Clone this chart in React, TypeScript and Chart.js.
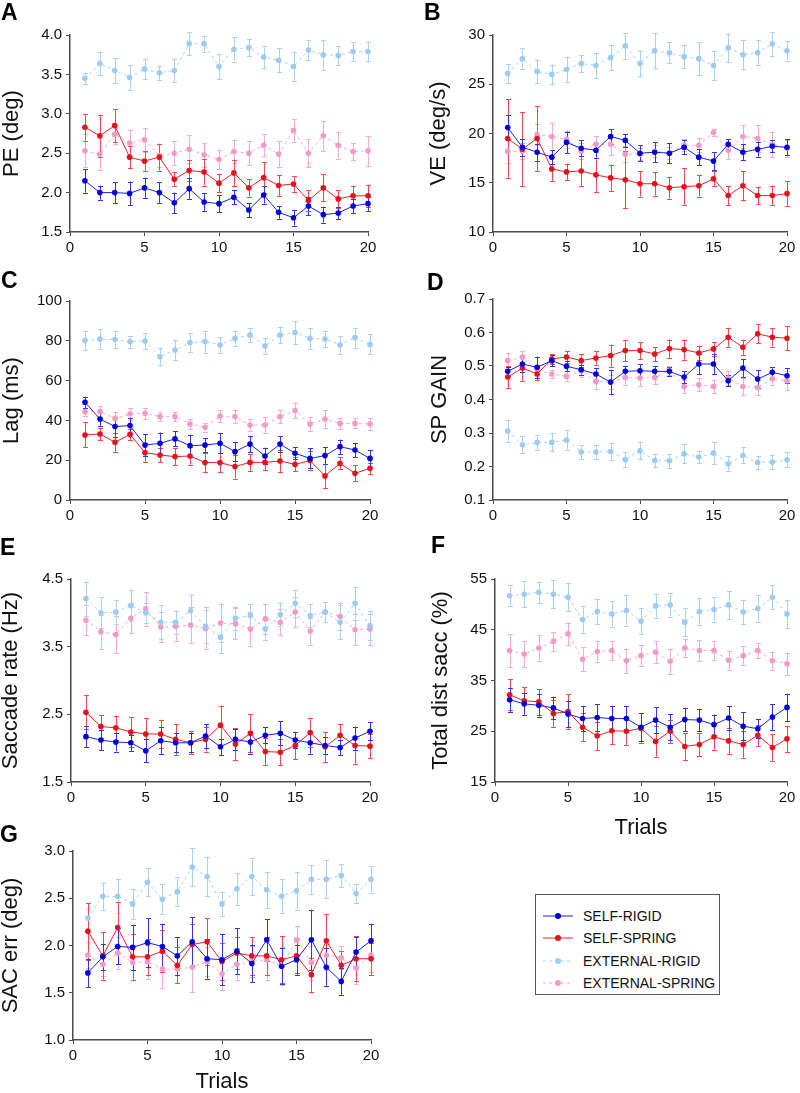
import React, { useEffect, useRef } from "react";
import { Chart, registerables } from "chart.js";
Chart.register(...registerables);

const FONT = '"Liberation Sans", Arial, sans-serif';
const AXIS = "#4a4a4a";

const TRIALS = [1, 2, 3, 4, 5, 6, 7, 8, 9, 10, 11, 12, 13, 14, 15, 16, 17, 18, 19, 20];
const X_TICKS = [0, 5, 10, 15, 20];
const LABELS = ["SELF-RIGID", "SELF-SPRING", "EXTERNAL-RIGID", "EXTERNAL-SPRING"];

// Panel A: PE (deg)
const A_SR = [2.15, 2.0, 2.0, 1.99, 2.06, 2.0, 1.87, 2.05, 1.88, 1.86, 1.94, 1.78, 1.97, 1.75, 1.68, 1.83, 1.72, 1.74, 1.83, 1.86];
const A_SR_e = [0.15, 0.09, 0.13, 0.15, 0.13, 0.13, 0.13, 0.13, 0.11, 0.11, 0.09, 0.09, 0.11, 0.08, 0.1, 0.12, 0.1, 0.08, 0.09, 0.09];
const A_SS = [2.83, 2.72, 2.85, 2.45, 2.4, 2.45, 2.17, 2.28, 2.26, 2.12, 2.25, 2.06, 2.19, 2.09, 2.11, 1.9, 2.06, 1.92, 1.96, 1.96];
const A_SS_e = [0.17, 0.27, 0.21, 0.14, 0.13, 0.17, 0.09, 0.13, 0.17, 0.11, 0.17, 0.11, 0.2, 0.13, 0.1, 0.13, 0.17, 0.11, 0.13, 0.14];
const A_ER = [3.45, 3.64, 3.55, 3.46, 3.57, 3.52, 3.55, 3.89, 3.89, 3.6, 3.82, 3.84, 3.72, 3.68, 3.6, 3.81, 3.75, 3.74, 3.79, 3.79];
const A_ER_e = [0.07, 0.15, 0.16, 0.16, 0.13, 0.09, 0.15, 0.15, 0.1, 0.16, 0.16, 0.11, 0.14, 0.15, 0.19, 0.13, 0.19, 0.12, 0.12, 0.12];
const A_ES = [2.53, 2.49, 2.74, 2.63, 2.67, 2.47, 2.5, 2.55, 2.48, 2.42, 2.52, 2.5, 2.6, 2.49, 2.79, 2.5, 2.72, 2.6, 2.52, 2.53];
const A_ES_e = [0.21, 0.2, 0.12, 0.17, 0.15, 0.15, 0.15, 0.18, 0.15, 0.12, 0.15, 0.15, 0.14, 0.16, 0.15, 0.18, 0.19, 0.17, 0.11, 0.19];
const A_TICKS = [1.5, 2.0, 2.5, 3.0, 3.5, 4.0];

// Panel B: VE (deg/s)
const B_SR = [20.6, 18.6, 18.1, 17.6, 19.1, 18.5, 18.3, 19.7, 19.3, 18.0, 18.1, 18.0, 18.6, 17.6, 17.2, 18.9, 18.1, 18.4, 18.7, 18.6];
const B_SR_e = [1.3, 0.85, 0.85, 0.7, 1.1, 0.8, 0.75, 0.75, 0.65, 0.8, 1.0, 1.0, 0.7, 0.8, 0.9, 0.55, 0.8, 0.75, 0.6, 0.8];
const B_SS = [19.5, 18.4, 19.5, 16.4, 16.1, 16.2, 15.8, 15.5, 15.3, 14.9, 14.9, 14.5, 14.6, 14.7, 15.4, 13.7, 14.7, 13.7, 13.7, 13.9];
const B_SS_e = [4.0, 3.75, 3.3, 1.2, 0.85, 1.5, 1.7, 1.35, 2.9, 1.3, 1.2, 1.1, 1.85, 1.1, 0.75, 1.0, 1.45, 0.9, 1.0, 1.25];
const B_ER = [26.1, 27.6, 26.3, 26.0, 26.5, 27.1, 26.9, 27.7, 28.9, 27.1, 28.4, 28.2, 27.8, 27.6, 26.9, 28.7, 28.0, 28.2, 29.1, 28.4];
const B_ER_e = [1.0, 1.1, 1.2, 1.0, 1.3, 0.85, 1.3, 1.3, 1.3, 1.3, 1.8, 1.05, 1.2, 1.7, 1.45, 1.45, 1.45, 1.25, 1.2, 1.0];
const B_ES = [18.2, 18.2, 19.9, 19.7, 19.4, 18.2, 18.9, 18.9, 17.9, 17.9, 18.2, 18.0, 18.8, 18.8, 20.1, 18.3, 19.7, 19.5, 18.9, 18.5];
const B_ES_e = [1.2, 0.8, 1.1, 1.35, 0.9, 0.8, 0.8, 1.1, 0.8, 0.6, 0.6, 0.6, 0.6, 0.7, 0.4, 0.85, 1.2, 1.35, 1.3, 0.85];
const B_TICKS = [10, 15, 20, 25, 30];

// Panel C: Lag (ms)
const C_SR = [49.1, 40.7, 36.9, 37.4, 27.6, 28.5, 30.7, 27.3, 27.6, 28.5, 24.3, 28.1, 22.1, 28.1, 23.5, 20.9, 22.3, 26.8, 25.1, 20.9];
const C_SR_e = [2.9, 3.4, 5.0, 3.8, 5.4, 5.4, 3.8, 5.5, 3.4, 5.0, 4.9, 4.1, 4.2, 3.9, 3.0, 5.0, 4.2, 3.6, 3.6, 4.2];
const C_SS = [32.7, 33.2, 29.0, 33.0, 23.8, 22.6, 21.8, 22.1, 18.8, 18.8, 16.8, 18.9, 18.9, 19.6, 17.9, 19.8, 12.1, 18.4, 13.4, 15.9];
const C_SS_e = [6.3, 3.1, 4.8, 2.8, 4.6, 3.6, 4.2, 4.4, 4.8, 4.8, 6.0, 4.2, 4.0, 5.4, 3.5, 4.6, 5.9, 3.0, 4.0, 2.8];
const C_ER = [80.1, 80.9, 80.6, 79.6, 79.9, 72.0, 75.4, 79.1, 79.6, 77.9, 81.2, 82.9, 77.4, 82.9, 84.1, 81.2, 80.9, 77.9, 81.6, 78.2];
const C_ER_e = [4.9, 4.9, 4.4, 3.0, 4.0, 4.2, 4.9, 4.8, 5.5, 3.9, 3.9, 3.4, 4.2, 4.2, 5.8, 5.4, 4.2, 4.6, 5.0, 5.0];
const C_ES = [44.4, 44.4, 41.0, 43.2, 43.6, 41.9, 41.9, 38.2, 36.5, 42.2, 41.9, 37.7, 37.7, 41.9, 44.9, 38.2, 40.7, 38.5, 38.5, 38.2];
const C_ES_e = [2.0, 2.9, 3.4, 2.8, 2.8, 2.2, 2.3, 2.6, 2.1, 3.1, 3.4, 3.0, 3.9, 3.4, 3.8, 3.4, 4.6, 2.7, 2.5, 2.9];
const C_TICKS = [0, 20, 40, 60, 80, 100];

// Panel D: SP GAIN
const D_SR = [0.484, 0.506, 0.496, 0.516, 0.499, 0.489, 0.476, 0.452, 0.484, 0.486, 0.484, 0.484, 0.467, 0.506, 0.506, 0.456, 0.494, 0.461, 0.481, 0.471];
const D_SR_e = [0.013, 0.024, 0.032, 0.016, 0.015, 0.015, 0.017, 0.035, 0.015, 0.019, 0.015, 0.013, 0.018, 0.031, 0.031, 0.016, 0.027, 0.026, 0.015, 0.023];
const D_SS = [0.467, 0.494, 0.476, 0.521, 0.527, 0.516, 0.524, 0.531, 0.546, 0.546, 0.536, 0.552, 0.549, 0.539, 0.551, 0.586, 0.556, 0.596, 0.586, 0.583];
const D_SS_e = [0.032, 0.04, 0.019, 0.014, 0.017, 0.02, 0.02, 0.033, 0.031, 0.025, 0.021, 0.027, 0.03, 0.022, 0.02, 0.028, 0.023, 0.028, 0.028, 0.036];
const D_ER = [0.306, 0.265, 0.272, 0.272, 0.279, 0.243, 0.243, 0.245, 0.22, 0.247, 0.218, 0.217, 0.238, 0.228, 0.24, 0.208, 0.233, 0.212, 0.213, 0.22];
const D_ER_e = [0.034, 0.025, 0.022, 0.027, 0.029, 0.02, 0.022, 0.025, 0.022, 0.026, 0.02, 0.021, 0.028, 0.018, 0.034, 0.022, 0.024, 0.019, 0.02, 0.022];
const D_ES = [0.516, 0.526, 0.489, 0.476, 0.469, 0.486, 0.454, 0.452, 0.466, 0.464, 0.466, 0.487, 0.439, 0.444, 0.439, 0.464, 0.439, 0.436, 0.462, 0.456];
const D_ES_e = [0.024, 0.018, 0.015, 0.013, 0.015, 0.018, 0.023, 0.021, 0.024, 0.025, 0.02, 0.013, 0.02, 0.02, 0.02, 0.02, 0.025, 0.022, 0.018, 0.029];
const D_TICKS = [0.1, 0.2, 0.3, 0.4, 0.5, 0.6, 0.7];

// Panel E: Saccade rate (Hz)
const E_SR = [2.17, 2.12, 2.09, 2.08, 1.96, 2.11, 2.08, 2.08, 2.18, 2.02, 2.13, 2.09, 2.19, 2.22, 2.12, 2.08, 2.04, 2.01, 2.15, 2.25];
const E_SR_e = [0.16, 0.15, 0.14, 0.12, 0.17, 0.2, 0.14, 0.14, 0.18, 0.12, 0.16, 0.17, 0.12, 0.18, 0.12, 0.16, 0.12, 0.11, 0.17, 0.13];
const E_SS = [2.53, 2.32, 2.3, 2.24, 2.21, 2.21, 2.13, 2.08, 2.13, 2.34, 2.06, 2.22, 1.95, 1.94, 2.04, 2.23, 2.02, 2.19, 2.04, 2.03];
const E_SS_e = [0.25, 0.17, 0.18, 0.22, 0.24, 0.21, 0.23, 0.17, 0.18, 0.29, 0.24, 0.28, 0.2, 0.19, 0.2, 0.22, 0.22, 0.17, 0.27, 0.18];
const E_ER = [4.21, 4.0, 4.01, 4.11, 4.0, 3.86, 3.86, 4.03, 3.8, 3.64, 3.92, 3.96, 3.76, 3.97, 4.14, 3.96, 4.01, 3.86, 4.14, 3.81];
const E_ER_e = [0.25, 0.23, 0.18, 0.23, 0.15, 0.25, 0.17, 0.23, 0.24, 0.24, 0.17, 0.17, 0.16, 0.17, 0.2, 0.17, 0.15, 0.25, 0.24, 0.21];
const E_ES = [3.89, 3.72, 3.68, 3.92, 4.06, 3.79, 3.8, 3.82, 3.77, 3.85, 3.84, 3.76, 3.91, 3.86, 4.01, 3.73, 4.01, 3.95, 3.75, 3.76];
const E_ES_e = [0.22, 0.25, 0.28, 0.22, 0.25, 0.22, 0.22, 0.26, 0.31, 0.28, 0.23, 0.25, 0.22, 0.19, 0.22, 0.2, 0.15, 0.2, 0.23, 0.23];
const E_TICKS = [1.5, 2.5, 3.5, 4.5];

// Panel F: Total dist sacc (%)
const F_SR = [31.2, 30.4, 30.1, 29.6, 28.4, 27.5, 27.7, 27.5, 27.5, 25.8, 27.2, 25.8, 27.3, 27.2, 26.3, 27.6, 26.0, 25.5, 27.8, 29.7];
const F_SR_e = [2.4, 2.1, 2.2, 2.2, 2.6, 2.5, 2.7, 2.5, 2.5, 2.8, 2.5, 2.6, 2.3, 2.2, 2.0, 2.3, 2.8, 1.9, 2.5, 2.7];
const F_SS = [32.2, 31.0, 30.8, 28.5, 28.9, 25.8, 24.1, 25.1, 25.0, 25.6, 23.0, 25.0, 22.0, 22.4, 23.9, 23.1, 22.4, 24.2, 21.8, 23.5];
const F_SS_e = [3.1, 2.7, 2.5, 2.6, 3.4, 2.8, 2.8, 2.6, 2.8, 3.0, 3.0, 2.3, 2.6, 2.3, 2.5, 2.5, 2.6, 2.1, 2.7, 2.6];
const F_ER = [51.7, 52.0, 52.4, 52.0, 51.4, 47.0, 48.6, 48.1, 48.8, 46.7, 49.7, 49.9, 46.5, 48.6, 49.0, 49.9, 48.5, 49.2, 51.4, 48.1];
const F_ER_e = [2.1, 2.6, 2.1, 2.8, 2.8, 2.6, 2.5, 2.5, 3.0, 2.6, 2.3, 2.3, 2.8, 2.6, 2.4, 2.8, 2.4, 2.6, 2.4, 2.8];
const F_ES = [40.9, 40.2, 41.4, 42.7, 44.2, 39.2, 40.7, 40.9, 38.9, 39.9, 40.6, 38.8, 41.4, 40.9, 40.9, 39.0, 39.9, 40.9, 38.9, 38.3];
const F_ES_e = [3.2, 2.6, 2.5, 1.8, 2.2, 2.4, 2.0, 1.9, 2.4, 2.1, 2.1, 2.5, 1.8, 2.1, 1.8, 1.9, 1.9, 1.5, 1.8, 2.2];
const F_TICKS = [15, 25, 35, 45, 55];

// Panel G: SAC err (deg)
const G_SR = [1.71, 1.88, 1.99, 1.98, 2.03, 1.99, 1.89, 2.04, 1.86, 1.85, 1.94, 1.81, 2.06, 1.78, 1.85, 2.06, 1.77, 1.62, 1.93, 2.05];
const G_SR_e = [0.15, 0.14, 0.19, 0.24, 0.26, 0.24, 0.2, 0.26, 0.21, 0.27, 0.24, 0.2, 0.22, 0.19, 0.16, 0.32, 0.2, 0.14, 0.16, 0.18];
const G_SS = [2.15, 1.89, 2.19, 1.88, 1.88, 1.94, 1.79, 2.01, 2.04, 1.83, 1.92, 1.89, 1.89, 1.85, 1.89, 1.69, 2.05, 1.79, 1.86, 1.86];
const G_SS_e = [0.3, 0.25, 0.27, 0.24, 0.19, 0.22, 0.19, 0.22, 0.25, 0.2, 0.17, 0.2, 0.2, 0.25, 0.18, 0.18, 0.28, 0.15, 0.24, 0.17];
const G_ER = [2.29, 2.52, 2.52, 2.44, 2.67, 2.49, 2.57, 2.83, 2.73, 2.44, 2.6, 2.73, 2.59, 2.52, 2.58, 2.7, 2.7, 2.74, 2.55, 2.7];
const G_ER_e = [0.1, 0.14, 0.18, 0.16, 0.15, 0.16, 0.15, 0.2, 0.21, 0.13, 0.17, 0.2, 0.19, 0.18, 0.2, 0.15, 0.2, 0.12, 0.1, 0.14];
const G_ES = [1.9, 1.8, 1.92, 1.82, 1.83, 1.75, 1.75, 1.77, 1.83, 1.7, 1.8, 1.83, 1.85, 1.78, 2.06, 1.82, 1.9, 1.87, 1.76, 1.9];
const G_ES_e = [0.14, 0.12, 0.17, 0.19, 0.18, 0.2, 0.15, 0.26, 0.15, 0.17, 0.17, 0.16, 0.21, 0.2, 0.15, 0.18, 0.16, 0.12, 0.17, 0.18];
const G_TICKS = [1.0, 1.5, 2.0, 2.5, 3.0];

const STYLES = [
  { color: "#0000dc", line: "#2020e0", err: "#3434e2", dash: [] as number[] },
  { color: "#e8101a", line: "#e8202a", err: "#ee4a50", dash: [] as number[] },
  { color: "#9ccbf3", line: "#a6d0f3", err: "#a8d2f4", dash: [3, 3] },
  { color: "#f49ac8", line: "#f5a6cf", err: "#f5aad2", dash: [3, 3] },
];

type Panel = {
  letter: string;
  letterPos: [number, number];
  ytitle: string;
  xtitle?: string;
  yTicks: number[];
  dec: number;
  series: number[][];
  errs: number[][];
  box: { left: number; top: number; width: number; height: number };
  plot: { l: number; r: number; t: number; b: number };
  padLeft: number;
  padBottom: number;
};

const PANELS: Panel[] = [
  {
    letter: "A", letterPos: [1, 1], ytitle: "PE (deg)", yTicks: A_TICKS, dec: 1,
    series: [A_SR, A_SS, A_ER, A_ES], errs: [A_SR_e, A_SS_e, A_ER_e, A_ES_e],
    box: { left: 0, top: 0, width: 400, height: 265 }, plot: { l: 70, r: 368, t: 35, b: 232 }, padLeft: 1, padBottom: 0,
  },
  {
    letter: "B", letterPos: [424, 1], ytitle: "VE (deg/s)", yTicks: B_TICKS, dec: 0,
    series: [B_SR, B_SS, B_ER, B_ES], errs: [B_SR_e, B_SS_e, B_ER_e, B_ES_e],
    box: { left: 400, top: 0, width: 400, height: 265 }, plot: { l: 493, r: 787, t: 35, b: 232 }, padLeft: 28, padBottom: 0,
  },
  {
    letter: "C", letterPos: [1, 269], ytitle: "Lag (ms)", yTicks: C_TICKS, dec: 0,
    series: [C_SR, C_SS, C_ER, C_ES], errs: [C_SR_e, C_SS_e, C_ER_e, C_ES_e],
    box: { left: 0, top: 265, width: 400, height: 265 }, plot: { l: 70, r: 370, t: 301, b: 500 }, padLeft: 1, padBottom: 0,
  },
  {
    letter: "D", letterPos: [427, 271], ytitle: "SP GAIN", yTicks: D_TICKS, dec: 1,
    series: [D_SR, D_SS, D_ER, D_ES], errs: [D_SR_e, D_SS_e, D_ER_e, D_ES_e],
    box: { left: 400, top: 265, width: 400, height: 265 }, plot: { l: 493, r: 787, t: 299, b: 500 }, padLeft: 29, padBottom: 0,
  },
  {
    letter: "E", letterPos: [0, 536], ytitle: "Saccade rate (Hz)", yTicks: E_TICKS, dec: 1,
    series: [E_SR, E_SS, E_ER, E_ES], errs: [E_SR_e, E_SS_e, E_ER_e, E_ES_e],
    box: { left: 0, top: 530, width: 400, height: 280 }, plot: { l: 71, r: 370, t: 579, b: 782 }, padLeft: 0, padBottom: 0,
  },
  {
    letter: "F", letterPos: [431, 534], ytitle: "Total dist sacc (%)", xtitle: "Trials", yTicks: F_TICKS, dec: 0,
    series: [F_SR, F_SS, F_ER, F_ES], errs: [F_SR_e, F_SS_e, F_ER_e, F_ES_e],
    box: { left: 400, top: 530, width: 400, height: 320 }, plot: { l: 495, r: 787, t: 579, b: 782 }, padLeft: 30, padBottom: 11,
  },
  {
    letter: "G", letterPos: [0, 823], ytitle: "SAC err (deg)", xtitle: "Trials", yTicks: G_TICKS, dec: 1,
    series: [G_SR, G_SS, G_ER, G_ES], errs: [G_SR_e, G_SS_e, G_ER_e, G_ES_e],
    box: { left: 0, top: 810, width: 400, height: 283 }, plot: { l: 73, r: 371, t: 851, b: 1040 }, padLeft: 0, padBottom: 0,
  },
];

const errorBarPlugin = {
  id: "errorBars",
  beforeDatasetsDraw(chart: any) {
    const ctx = chart.ctx;
    const yScale = chart.scales.y;
    for (let di = chart.data.datasets.length - 1; di >= 0; di--) {
      const ds = chart.data.datasets[di];
      const meta = chart.getDatasetMeta(di);
      if (!ds.errors) continue;
      ctx.save();
      ctx.strokeStyle = ds.errColor;
      ctx.lineWidth = 1;
      meta.data.forEach((pt: any, i: number) => {
        const v = ds.data[i].y;
        const e = ds.errors[i];
        const x = Math.round(pt.x) + 0.5;
        const yT = yScale.getPixelForValue(v + e);
        const yB = yScale.getPixelForValue(v - e);
        ctx.beginPath();
        ctx.moveTo(x, yT);
        ctx.lineTo(x, yB);
        ctx.moveTo(x - 2.5, Math.round(yT) + 0.5);
        ctx.lineTo(x + 2.5, Math.round(yT) + 0.5);
        ctx.moveTo(x - 2.5, Math.round(yB) + 0.5);
        ctx.lineTo(x + 2.5, Math.round(yB) + 0.5);
        ctx.stroke();
      });
      ctx.restore();
    }
  },
};

function PanelChart({ cfg }: { cfg: Panel }) {
  const ref = useRef<HTMLCanvasElement>(null);
  useEffect(() => {
    const { box, plot } = cfg;
    const tickFont = { family: FONT, size: 15 };
    const titleFont = { family: FONT, size: 22, lineHeight: 1 };
    const chart = new Chart(ref.current as HTMLCanvasElement, {
      type: "line",
      data: {
        datasets: STYLES.map((s, k) => ({
          label: LABELS[k],
          data: TRIALS.map((t, i) => ({ x: t, y: cfg.series[k][i] })),
          errors: cfg.errs[k],
          errColor: s.err,
          borderColor: s.line,
          backgroundColor: s.color,
          pointBackgroundColor: s.color,
          pointBorderColor: s.color,
          pointRadius: 2.8,
          pointBorderWidth: 0,
          pointHoverRadius: 0,
          borderWidth: 1,
          borderDash: s.dash,
          tension: 0,
          clip: false,
        })) as any,
      },
      options: {
        responsive: false,
        animation: false,
        devicePixelRatio: 1,
        events: [],
        layout: {
          padding: {
            left: cfg.padLeft,
            top: plot.t - box.top,
            right: box.left + box.width - plot.r,
            bottom: cfg.padBottom,
          },
        },
        plugins: { legend: { display: false }, tooltip: { enabled: false } },
        scales: {
          x: {
            type: "linear",
            min: 0,
            max: 20,
            afterBuildTicks: (s: any) => {
              s.ticks = X_TICKS.map((v) => ({ value: v }));
            },
            afterFit: (s: any) => {
              s.height = box.top + box.height - cfg.padBottom - plot.b;
            },
            ticks: { font: tickFont, color: "#111", padding: 3, maxRotation: 0, autoSkip: false },
            grid: { drawOnChartArea: false, tickLength: 4, color: AXIS },
            border: { color: AXIS, width: 1.5 },
            title: cfg.xtitle
              ? { display: true, text: cfg.xtitle, font: titleFont, color: "#111", padding: 0 }
              : { display: false },
          },
          y: {
            type: "linear",
            min: cfg.yTicks[0],
            max: cfg.yTicks[cfg.yTicks.length - 1],
            afterBuildTicks: (s: any) => {
              s.ticks = cfg.yTicks.map((v) => ({ value: v }));
            },
            afterFit: (s: any) => {
              s.width = plot.l - box.left - cfg.padLeft;
            },
            ticks: {
              font: tickFont,
              color: "#111",
              padding: 4,
              autoSkip: false,
              callback: (v: any) => Number(v).toFixed(cfg.dec),
            },
            grid: { drawOnChartArea: false, tickLength: 4, color: AXIS },
            border: { color: AXIS, width: 1.5 },
            title: { display: true, text: cfg.ytitle, font: titleFont, color: "#111", padding: 0 },
          },
        },
      } as any,
      plugins: [errorBarPlugin],
    });
    return () => chart.destroy();
  }, []);
  return (
    <canvas
      ref={ref}
      width={cfg.box.width}
      height={cfg.box.height}
      style={{ position: "absolute", left: cfg.box.left, top: cfg.box.top, width: cfg.box.width, height: cfg.box.height }}
    />
  );
}

function LegendSample({ k }: { k: number }) {
  const s = STYLES[k];
  return (
    <svg width={30} height={10} style={{ position: "absolute", left: 7, top: -5 }}>
      <line x1={0} y1={5} x2={30} y2={5} stroke={s.line} strokeWidth={1} strokeDasharray={s.dash.length ? "3,3" : undefined} />
      <circle cx={15} cy={5} r={3} fill={s.color} />
    </svg>
  );
}

export default function App() {
  const rowY = [21, 43, 66, 88];
  return (
    <div style={{ position: "absolute", left: 0, top: 0, width: 800, height: 1093, background: "#fff", fontFamily: FONT }}>
      {PANELS.map((p) => (
        <PanelChart key={p.letter} cfg={p} />
      ))}
      {PANELS.map((p) => (
        <div
          key={"l" + p.letter}
          style={{
            position: "absolute",
            left: p.letterPos[0],
            top: p.letterPos[1],
            fontSize: 23,
            lineHeight: "23px",
            fontWeight: "bold",
            color: "#000",
          }}
        >
          {p.letter}
        </div>
      ))}
      <div
        style={{
          position: "absolute",
          left: 535,
          top: 894,
          width: 185,
          height: 101,
          border: "1px solid #555",
          boxSizing: "border-box",
        }}
      >
        {LABELS.map((lab, k) => (
          <div key={lab} style={{ position: "absolute", left: 0, top: rowY[k], width: 180, height: 0 }}>
            <LegendSample k={k} />
            <div style={{ position: "absolute", left: 47, top: -8, fontSize: 14, lineHeight: "16px", color: "#111", whiteSpace: "nowrap" }}>
              {lab}
            </div>
          </div>
        ))}
      </div>
    </div>
  );
}
